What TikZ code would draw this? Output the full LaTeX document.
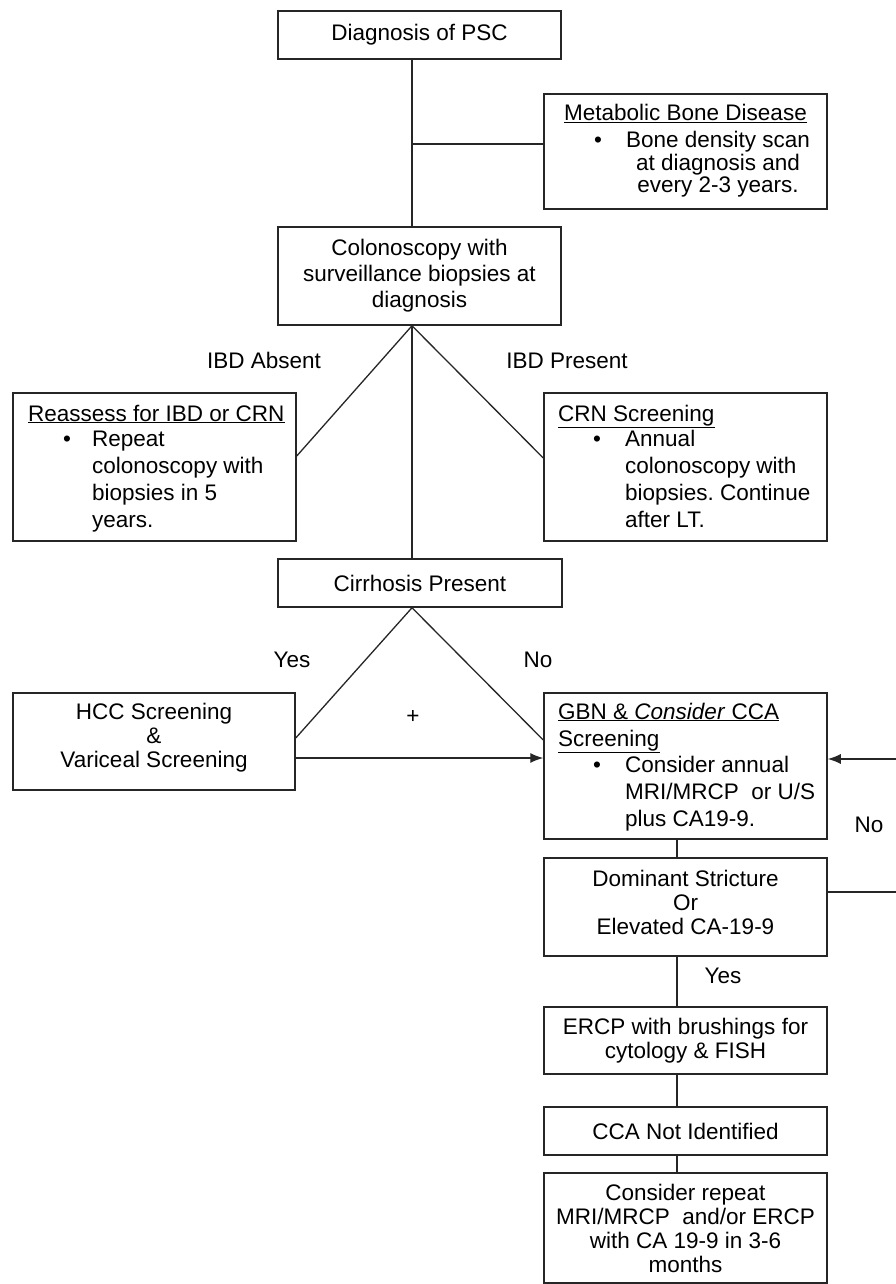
\documentclass[tikz,border=0pt]{standalone}
\usepackage{fontspec}
\setmainfont{Liberation Sans}
\usetikzlibrary{arrows.meta}
\frenchspacing
\newcommand\fsz{\fontsize{22.5}{24}\selectfont}
\begin{document}
\begin{tikzpicture}[x=1pt,y=-1pt,
  box/.style={draw=black!85, line width=1.5pt, inner sep=0pt, align=center, font=\fsz, text=black},
  conn/.style={draw=black!85, line width=1.3pt},
  arr/.style={conn, -{Latex[length=13pt,width=10pt]}},
  lbl/.style={font=\fsz, inner sep=0pt, anchor=base, text=black},
  lblw/.style={font=\fsz, inner sep=0pt, anchor=base west, text=black}]
\useasboundingbox (0,0) rectangle (895,1284);
\coordinate (mx) at (412,0);
\coordinate (rx) at (677,0);

% boxes
\node[box, minimum width=283, minimum height=48] (diag) at (419.5,35) {Diagnosis of PSC};
\node[box, minimum width=283, minimum height=115] (meta) at (685.5,151.5) {};
\node[box, minimum width=283, minimum height=98, font=\fontsize{22.5}{26}\selectfont] (colon) at (419.5,276) {Colonoscopy with\\surveillance biopsies at\\diagnosis};
\node[box, minimum width=283, minimum height=148] (reass) at (154.5,467) {};
\node[box, minimum width=283, minimum height=148] (crn) at (685.5,467) {};
\node[box, minimum width=284, minimum height=48] (cirr) at (420,583) {Cirrhosis Present};
\node[box, minimum width=282, minimum height=97, text depth=13pt] (hcc) at (154,741.5) {HCC Screening\\\&\\Variceal Screening};
\node[box, minimum width=283, minimum height=98, text depth=10pt] (dom) at (685.5,907) {Dominant Stricture\\Or\\Elevated CA-19-9};
\node[box, minimum width=283, minimum height=146] (gbn) at (685.5,766) {};
\node[box, minimum width=283, minimum height=67] (ercp) at (685.5,1040.5) {ERCP with brushings for\\cytology \& FISH};
\node[box, minimum width=283, minimum height=48] (cca) at (685.5,1131) {CCA Not Identified};
\node[box, minimum width=283, minimum height=110] (rep) at (685.5,1228) {Consider repeat\\MRI/MRCP\ \ and/or ERCP\\with CA 19-9 in 3-6\\months};

% Metabolic bone disease text
\node[lbl] (m0) at (685.5,121) {\underline{Metabolic Bone Disease}};
\node[lbl] (mb) at (598,148) {\textbullet};
\node[lbl] (m1) at (718,148) {Bone density scan};
\node[lbl] (m2) at (718,170.5) {at diagnosis and};
\node[lbl] (m3) at (718,193) {every 2-3 years.};

% Reassess text
\node[lblw] (r0) at (28,421) {\underline{Reassess for IBD or CRN}};
\node[lbl] (rb) at (67,446) {\textbullet};
\node[lblw] (r1) at (92,446) {Repeat};
\node[lblw] (r2) at (92,473) {colonoscopy with};
\node[lblw] (r3) at (92,500) {biopsies in 5};
\node[lblw] (r4) at (92,527) {years.};

% CRN text
\node[lblw] (c0) at (558,421) {\underline{CRN Screening}};
\node[lbl] (cb) at (597,446) {\textbullet};
\node[lblw] (c1) at (625,446) {Annual};
\node[lblw] (c2) at (625,473) {colonoscopy with};
\node[lblw] (c3) at (625,500) {biopsies. Continue};
\node[lblw] (c4) at (625,527) {after LT.};

% GBN text
\node[lblw] (g0) at (558,719) {\underline{GBN \& \textit{Consider} CCA}};
\node[lblw] (g1) at (558,746) {\underline{Screening}};
\node[lbl] (gb) at (597,772) {\textbullet};
\node[lblw] (g2) at (625,772) {Consider annual};
\node[lblw] (g3) at (625,799) {MRI/MRCP\ \ or U/S};
\node[lblw] (g4) at (625,826) {plus CA19-9.};

% labels
\node[lbl] (lab1) at (264,368) {IBD Absent};
\node[lbl] (lab2) at (567,368) {IBD Present};
\node[lbl] (lab3) at (292,667) {Yes};
\node[lbl] (lab4) at (538,667) {No};
\node[font=\fsz, inner sep=0pt] (plus) at (413,717) {+};
\node[lbl] (lab5) at (869,832) {No};
\node[lbl] (lab6) at (723,983) {Yes};

% connectors
\coordinate (br) at (412,144);
\draw[conn] (diag.south -| mx) -- (colon.north -| mx);
\draw[conn] (br) -- (br -| meta.west);
\draw[conn] (colon.south -| mx) -- ([yshift=11pt]reass.east);
\draw[conn] (colon.south -| mx) -- ([yshift=9pt]crn.west);
\draw[conn] (colon.south -| mx) -- (cirr.north -| mx);
\draw[conn] (cirr.south -| mx) -- ([yshift=3.5pt]hcc.east);
\draw[conn] (cirr.south -| mx) -- ([yshift=26pt]gbn.west);
\draw[arr] ([yshift=-16.5pt]hcc.east) -- ([yshift=-16.5pt]hcc.east -| gbn.west);
\draw[conn] (gbn.south -| rx) -- (dom.north -| rx);
\coordinate (loopA) at (897,892);
\coordinate (loopB) at (897,759);
\draw[conn] (dom.east |- loopA) -- (loopA) -- (loopB);
\draw[arr] (loopB) -- (loopB -| gbn.east);
\draw[conn] (dom.south -| rx) -- (ercp.north -| rx);
\draw[conn] (ercp.south -| rx) -- (cca.north -| rx);
\draw[conn] (cca.south -| rx) -- (rep.north -| rx);
\end{tikzpicture}
\end{document}
